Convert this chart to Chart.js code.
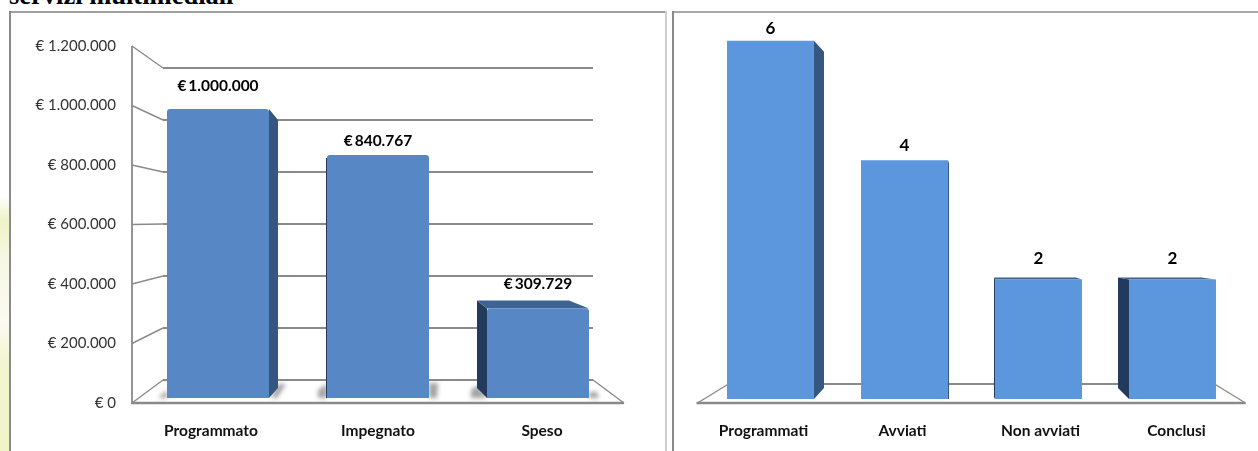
<!DOCTYPE html>
<html><head><meta charset="utf-8">
<style>
html,body{margin:0;padding:0;background:#fff;width:1258px;height:451px;overflow:hidden}
canvas{position:absolute;top:0}
.abs{position:absolute}
#title{left:9px;top:-20px;font:bold 26.5px "Liberation Serif",serif;color:#000;white-space:nowrap;line-height:30px}
</style>
<script src="https://cdn.jsdelivr.net/npm/chart.js@4"></script>
</head><body>
<div class="abs" style="left:0;top:195px;width:9px;height:256px;background:linear-gradient(#fff 0,#eef3c8 10%,#f6f8e4 25%,#fbfbf2 50%,#f3f5d0 65%,#f1f4c8 100%)"></div>
<div id="title" class="abs">servizi multimediali</div>
<div class="abs" style="left:9px;top:11px;width:657px;height:1.5px;background:#a0a0a0"></div>
<div class="abs" style="left:9px;top:11px;width:2px;height:440px;background:#8a8a8a"></div>
<div class="abs" style="left:665px;top:11px;width:2px;height:440px;background:#cfcfcf"></div>
<div class="abs" style="left:672px;top:11px;width:586px;height:1.5px;background:#a8a8a8"></div>
<div class="abs" style="left:672px;top:11px;width:2px;height:440px;background:#8a8a8a"></div>
<canvas id="c1" width="668" height="451" style="left:0"></canvas>
<canvas id="c2" width="590" height="451" style="left:668px"></canvas>
<script>
const budgetCategories = ['Programmato','Impegnato','Speso'];
const budgetValues = [1000000,840767,309729];
const budgetTicks = [0,200000,400000,600000,800000,1000000,1200000];
const projectCategories = ['Programmati','Avviati','Non avviati','Conclusi'];
const projectValues = [6,4,2,2];

const LINE='#8a8a8a', FONT='Lato';
const euro = v => '€ ' + String(v).replace(/\B(?=(\d{3})+$)/g,'.');
const euroBold = v => '€\u2009' + String(v).replace(/\B(?=(\d{3})+$)/g,'.');

/* 3D look per bar (drawing style only): soft floor shadows are offsets from the bar's bottom corners */
const looksLeft = [
 {side:'right',dx:9,dyT:11,dyB:-10,gap:23,tickShift:-7,shL:[[-9,0],[0,-8],[0,0]],shR:[[9,-14],[17,-14],[8,0],[2,0]]},
 {side:'edge',gap:14,tickShift:0,shL:[[-9,0],[-9,-8],[0,-14],[0,0]],shR:[[0,-15],[9,-15],[8,0],[0,0]]},
 {side:'left',dx:-10,dyT:-8,dyB:-10,inset:20,gap:24,tickShift:4,shL:[[-16,0],[-16,-8],[-9,-13],[0,0]],shR:[[0,-6],[8,-6],[10,0],[0,0]]}
];
const looksRight = [
 {side:'right',dx:10,dyT:11,dyB:-11,gap:12,tickShift:-7},
 {side:'right',dx:1,dyT:3,dyB:0,gap:15,tickShift:-2},
 {side:'left',dx:-1,dyT:-2,dyB:-2,inset:6,gap:21,tickShift:2},
 {side:'left',dx:-11,dyT:-2,dyB:-11,inset:15,gap:21,tickShift:4}
];

function poly(ctx,pts,fill){ctx.beginPath();pts.forEach((p,i)=>i?ctx.lineTo(p[0],p[1]):ctx.moveTo(p[0],p[1]));ctx.closePath();ctx.fillStyle=fill;ctx.fill();}
function seg(ctx,a,b,c,d,w){ctx.beginPath();ctx.moveTo(a,b);ctx.lineTo(c,d);ctx.lineWidth=w;ctx.strokeStyle=LINE;ctx.stroke();}

function scene(opts){return {
 id:'scene',
 beforeDraw(chart){
  const items=chart.scales.x.getLabelItems(chart.chartArea);
  items.forEach((it,i)=>{it.options.translation=[it.options.translation[0]+opts.looks[i].tickShift,it.options.translation[1]];});
 },
 beforeDatasetsDraw(chart){
  const {ctx,chartArea:a,scales}=chart;const inset=6,depth=31,floorFront=a.bottom,floorBack=opts.floorBack;
  const xL=a.left-inset,xR=a.right+inset;
  ctx.save();
  if(opts.wall){
   const yS=scales.y, k=(floorBack-opts.wallTop)/(yS.getPixelForValue(0)-yS.getPixelForValue(yS.max));
   seg(ctx,xL,yS.getPixelForValue(yS.max),xL,floorFront,1.8);
   yS.ticks.forEach(t=>{
     const f=yS.getPixelForValue(t.value), b=floorBack+(f-floorFront)*k;
     seg(ctx,xL,f,xL+depth,b,1.4);
     seg(ctx,xL+depth,b,xR-depth,b,1.8);
   });
  } else {
   seg(ctx,xL,floorFront,xL+depth,floorBack,1.4);
   seg(ctx,xL+depth,floorBack,xR-depth,floorBack,1.8);
  }
  seg(ctx,xR,floorFront,xR-depth,floorBack,1.4);
  seg(ctx,xL-1,floorFront,xR,floorFront,2.4);
  chart.getDatasetMeta(0).data.forEach((b,i)=>{
   const l=opts.looks[i],L=b.x-b.width/2,R=b.x+b.width/2,T=b.y,B=b.base;
   if(l.shL){
     ctx.save();ctx.filter='blur(2px)';
     poly(ctx,l.shL.map(p=>[L+p[0],B+p[1]]),'rgba(125,125,125,.7)');
     poly(ctx,l.shR.map(p=>[R+p[0],B+p[1]]),'rgba(125,125,125,.7)');
     ctx.restore();
   }
   if(l.side==='right'){
     poly(ctx,[[R,T],[R+l.dx,T+l.dyT],[R+l.dx,B+l.dyB],[R,B]],opts.sideR);
   } else if(l.side==='left'){
     poly(ctx,[[L,T],[L+l.dx,T+l.dyT],[L+l.dx,B+l.dyB],[L,B]],opts.sideL);
     poly(ctx,[[L,T],[L+l.dx,T+l.dyT],[R-l.inset,T+l.dyT],[R,T]],opts.topC);
   } else if(l.side==='edge'){
     poly(ctx,[[L,T+3],[L-1,T+3],[L-1,B],[L,B]],opts.sideL);
   }
  });
  ctx.restore();
 },
 afterDatasetsDraw(chart){
  const {ctx}=chart;ctx.save();
  ctx.textAlign='center';ctx.textBaseline='middle';ctx.fillStyle='#000';
  ctx.font='bold '+opts.labelSize+'px '+FONT;
  chart.getDatasetMeta(0).data.forEach((b,i)=>{
    ctx.fillText(opts.labelFmt(chart.data.datasets[0].data[i]),b.x,b.y-opts.looks[i].gap);
  });
  ctx.restore();
 }
};}

new Chart(document.getElementById('c1'),{
 type:'bar',
 data:{labels:budgetCategories,datasets:[{data:budgetValues,yAxisID:'bars',backgroundColor:'#5787c4',
   barPercentage:0.6375,categoryPercentage:1,borderRadius:{topLeft:3,topRight:3,bottomLeft:0,bottomRight:0},borderSkipped:false}]},
 options:{responsive:false,animation:false,
  layout:{padding:{top:46,right:50,left:0,bottom:0}},
  plugins:{legend:{display:false},tooltip:{enabled:false}},
  scales:{
   x:{grid:{display:false,drawTicks:false},border:{display:false},
      afterFit(s){s.height=48},
      ticks:{padding:19,color:'#111',font:{family:FONT,size:15.5,weight:'bold'},maxRotation:0}},
   y:{min:0,max:1200000,afterFit(s){s.width=138},
      afterBuildTicks(s){s.ticks=budgetTicks.map(v=>({value:v}))},
      grid:{display:false,drawTicks:false},border:{display:false},
      ticks:{padding:22,color:'#333',font:{family:FONT,size:15},callback:euro}},
   bars:{display:false,min:-17300,max:1218000}
  }},
 plugins:[scene({looks:looksLeft,wall:true,floorBack:380,wallTop:68,sideR:'#34567f',sideL:'#223a5c',topC:'#3d6392',labelSize:15.5,labelFmt:euroBold})]
});

new Chart(document.getElementById('c2'),{
 type:'bar',
 data:{labels:projectCategories,datasets:[{data:projectValues,yAxisID:'y',backgroundColor:'#5c96dd',
   barPercentage:0.649,categoryPercentage:1,borderSkipped:false}]},
 options:{responsive:false,animation:false,
  layout:{padding:{top:14,right:18.5,left:35.5,bottom:0}},
  plugins:{legend:{display:false},tooltip:{enabled:false}},
  scales:{
   x:{grid:{display:false,drawTicks:false},border:{display:false},
      afterFit(s){s.height=48},
      ticks:{padding:19,color:'#111',font:{family:FONT,size:15.5,weight:'bold'},maxRotation:0}},
   y:{display:false,min:-0.067,max:6.45}
  }},
 plugins:[scene({looks:looksRight,wall:false,floorBack:384,sideR:'#34567f',sideL:'#223a5c',topC:'#3d6392',labelSize:17,labelFmt:v=>String(v)})]
});
</script>
</body></html>
